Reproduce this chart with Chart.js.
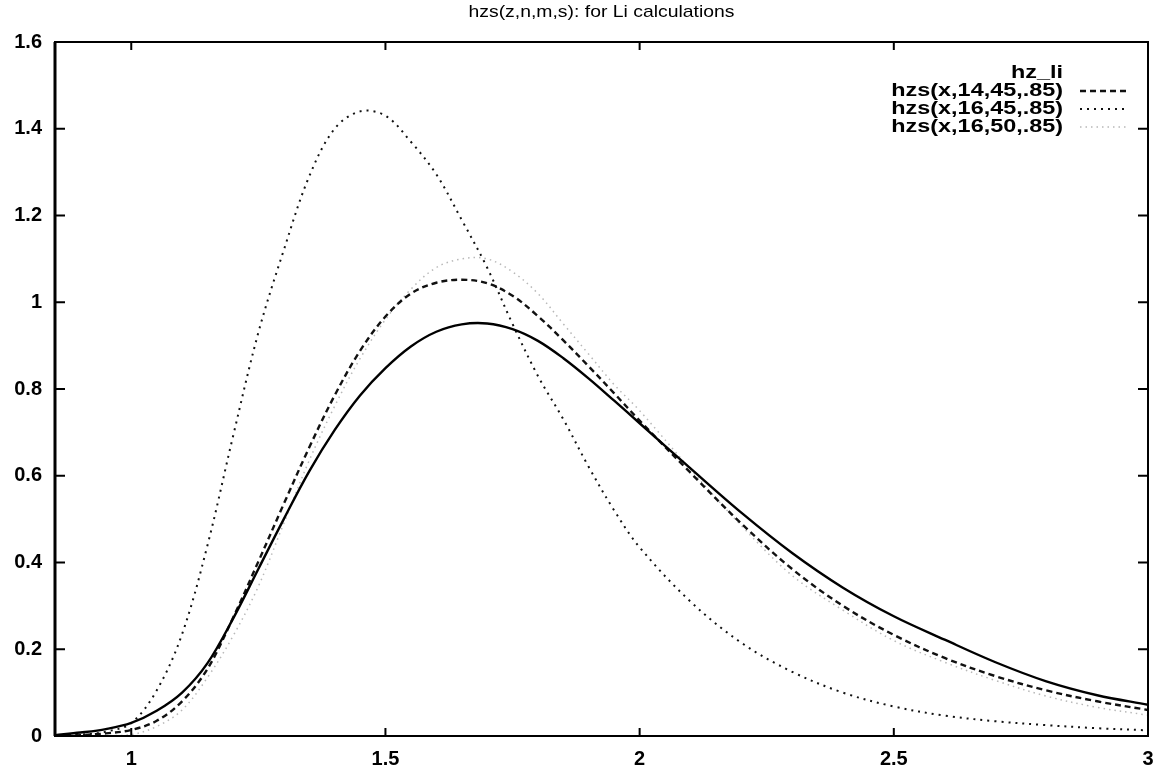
<!DOCTYPE html>
<html>
<head>
<meta charset="utf-8">
<title>hzs(z,n,m,s): for Li calculations</title>
<script src="https://cdn.jsdelivr.net/npm/chart.js@4.4.0/dist/chart.umd.min.js"></script>
<style>
html, body { margin: 0; padding: 0; background: #fff; }
</style>
</head>
<body>
<canvas id="myChart" width="1168" height="768"></canvas>
<script>
// values
var xs        = [0.85, 0.9, 0.95, 1.0, 1.05, 1.1, 1.15, 1.2, 1.25, 1.3, 1.35, 1.4, 1.45, 1.5, 1.55, 1.6, 1.65, 1.7, 1.75, 1.8, 1.85, 1.9, 1.95, 2.0, 2.1, 2.2, 2.3, 2.4, 2.5, 2.6, 2.7, 2.8, 2.9, 3.0];
var hz_li     = [0.002, 0.008, 0.016, 0.03, 0.058, 0.1, 0.168, 0.27, 0.385, 0.5, 0.61, 0.705, 0.785, 0.848, 0.898, 0.932, 0.949, 0.951, 0.938, 0.911, 0.871, 0.824, 0.773, 0.721, 0.617, 0.515, 0.422, 0.342, 0.276, 0.222, 0.17, 0.126, 0.094, 0.072];
var hzs_14_45 = [0.0, 0.002, 0.006, 0.014, 0.035, 0.08, 0.155, 0.272, 0.402, 0.535, 0.665, 0.785, 0.888, 0.967, 1.02, 1.045, 1.052, 1.044, 1.015, 0.968, 0.912, 0.852, 0.79, 0.727, 0.607, 0.49, 0.385, 0.30, 0.233, 0.18, 0.138, 0.105, 0.08, 0.06];
var hzs_16_45 = [0.0, 0.003, 0.01, 0.03, 0.105, 0.235, 0.44, 0.69, 0.93, 1.12, 1.29, 1.40, 1.44, 1.43, 1.37, 1.295, 1.19, 1.08, 0.95, 0.83, 0.73, 0.62, 0.52, 0.435, 0.31, 0.215, 0.148, 0.1, 0.068, 0.047, 0.034, 0.025, 0.018, 0.013];
var hzs_16_50 = [0.0, 0.0, 0.001, 0.003, 0.022, 0.06, 0.135, 0.23, 0.345, 0.49, 0.635, 0.76, 0.87, 0.96, 1.03, 1.08, 1.10, 1.10, 1.07, 1.02, 0.95, 0.88, 0.81, 0.75, 0.615, 0.485, 0.37, 0.29, 0.22, 0.17, 0.128, 0.092, 0.066, 0.048];

var xTicks = [1, 1.5, 2, 2.5, 3];
var yTicks = [0, 0.2, 0.4, 0.6, 0.8, 1, 1.2, 1.4, 1.6];
var seriesNames = ["hz_li", "hzs(x,14,45,.85)", "hzs(x,16,45,.85)", "hzs(x,16,50,.85)"];
var chartTitle = "hzs(z,n,m,s): for Li calculations";

function points(ys) {
	var out = [];
	for (var i = 0; i < xs.length; i++) {
		out.push({ x: xs[i], y: ys[i] });
	}
	return out;
}

var FONT = '"Liberation Sans", Arial, sans-serif';

// gnuplot style box, inward ticks, title and key
var gnuplotFrame = {
	id: "gnuplotFrame",
	afterDraw: function(chart) {
		var ctx = chart.ctx;
		var a = chart.chartArea;
		var sx = chart.scales.x, sy = chart.scales.y;
		ctx.save();
		ctx.strokeStyle = "#000";
		ctx.lineWidth = 2;
		ctx.strokeRect(a.left, a.top, a.right - a.left, a.bottom - a.top);
		ctx.lineWidth = 3;
		ctx.beginPath();
		ctx.moveTo(a.left, a.top); ctx.lineTo(a.left, a.bottom);
		ctx.stroke();
		ctx.lineWidth = 2;
		ctx.beginPath();
		xTicks.forEach(function(v) {
			var px = sx.getPixelForValue(v);
			ctx.moveTo(px, a.bottom); ctx.lineTo(px, a.bottom - 8);
			ctx.moveTo(px, a.top); ctx.lineTo(px, a.top + 8);
		});
		yTicks.forEach(function(v) {
			var py = sy.getPixelForValue(v);
			ctx.moveTo(a.left, py); ctx.lineTo(a.left + 10, py);
			ctx.moveTo(a.right, py); ctx.lineTo(a.right - 10, py);
		});
		ctx.stroke();

		ctx.fillStyle = "#000";
		ctx.textBaseline = "middle";
		ctx.textAlign = "center";
		ctx.font = "17px " + FONT;
		ctx.save();
		ctx.translate((a.left + a.right) / 2, 12);
		ctx.scale(1.14, 1);
		ctx.fillText(chartTitle, 0, 0);
		ctx.restore();

		// key
		var ds = chart.data.datasets;
		ctx.font = "bold 18px " + FONT;
		ctx.textAlign = "right";
		for (var i = 0; i < ds.length; i++) {
			var y = 73 + i * 18;
			ctx.save();
			ctx.translate(1063, y);
			ctx.scale(1.3, 1);
			ctx.fillText(ds[i].label, 0, 0);
			ctx.restore();
			if (ds[i].keySample) {
				ctx.save();
				ctx.strokeStyle = ds[i].borderColor;
				ctx.lineWidth = ds[i].borderWidth;
				ctx.setLineDash(ds[i].borderDash || []);
				ctx.beginPath();
				ctx.moveTo(1080, y);
				ctx.lineTo(1128, y);
				ctx.stroke();
				ctx.restore();
			}
		}
		ctx.restore();
	}
};

var ctx = document.getElementById("myChart");

var data = {
	datasets: [
		{
			label: seriesNames[0],
			data: points(hz_li),
			borderColor: "#000",
			borderWidth: 2.4,
			keySample: false
		},
		{
			label: seriesNames[1],
			data: points(hzs_14_45),
			borderColor: "#111",
			borderWidth: 2.4,
			borderDash: [6, 4],
			keySample: true
		},
		{
			label: seriesNames[2],
			data: points(hzs_16_45),
			borderColor: "#111",
			borderWidth: 2,
			borderDash: [2, 5],
			keySample: true
		},
		{
			label: seriesNames[3],
			data: points(hzs_16_50),
			borderColor: "#b8b8b8",
			borderWidth: 1.5,
			borderDash: [1.5, 4],
			keySample: true
		}
	]
};

var myChart = new Chart(ctx, {
	type: "line",
	data: data,
	plugins: [gnuplotFrame],
	options: {
		responsive: false,
		animation: false,
		devicePixelRatio: 1,
		layout: { padding: { top: 42, right: 20, left: 0, bottom: 0 } },
		elements: {
			point: { radius: 0 },
			line: { tension: 0.35, fill: false }
		},
		plugins: {
			legend: { display: false },
			title: { display: false },
			tooltip: { enabled: false }
		},
		scales: {
			x: {
				type: "linear",
				min: 0.85,
				max: 3,
				border: { display: false },
				grid: { display: false, drawTicks: false },
				afterBuildTicks: function(scale) {
					scale.ticks = xTicks.map(function(v) { return { value: v }; });
				},
				afterFit: function(scale) { scale.height = 32; },
				ticks: {
					autoSkip: false,
					maxRotation: 0,
					padding: 11,
					color: "#000",
					font: { family: FONT, size: 20, weight: "bold" },
					callback: function(v) { return String(v); }
				}
			},
			y: {
				min: 0,
				max: 1.6,
				border: { display: false },
				grid: { display: false, drawTicks: false },
				afterBuildTicks: function(scale) {
					scale.ticks = yTicks.map(function(v) { return { value: v }; });
				},
				afterFit: function(scale) { scale.width = 55; },
				ticks: {
					padding: 13,
					color: "#000",
					font: { family: FONT, size: 20, weight: "bold" },
					callback: function(v) { return String(Math.round(v * 10) / 10); }
				}
			}
		}
	}
});
</script>
</body>
</html>
